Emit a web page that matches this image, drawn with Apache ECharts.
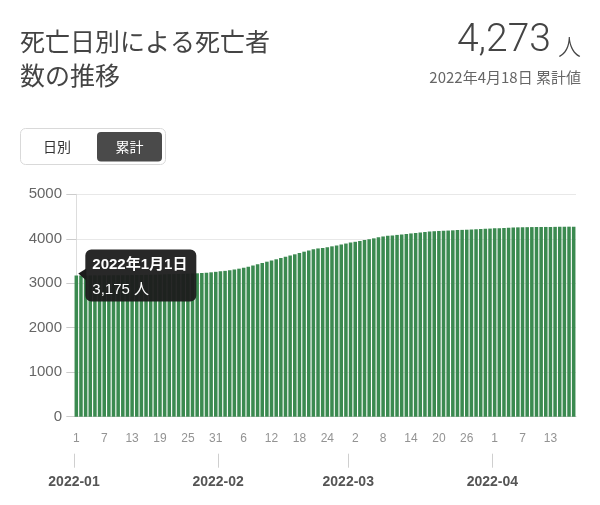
<!DOCTYPE html>
<html><head><meta charset="utf-8">
<script src="https://cdn.jsdelivr.net/npm/echarts@6/dist/echarts.min.js"></script>
<style>html,body{margin:0;padding:0;background:#fff}#c{width:600px;height:505px}</style>
</head><body><div id="c"></div>
<script>
// ---- data ----
const months = ['2022-01', '2022-02', '2022-03', '2022-04'];
const monthDays = [31, 28, 31, 18];
const cumulativeDeaths = [
  3175,3175,3176,3176,3177,3177,3178,3179,3179,3180,3181,3182,3183,3184,3186,3188,3190,3192,3195,3198,3201,3204,3207,3211,3215,3219,3224,
  3231,3238,3246,3257,3268,3279,3291,3309,3328,3350,3373,3399,3426,3455,3485,3512,3539,3568,3597,3624,3651,3680,3710,3737,3763,3783,
  3795,3812,3830,3850,3870,3893,3915,3932,3950,3970,3990,4010,4032,4052,4066,4076,4087,4098,4109,4120,4131,4142,4152,4162,4170,4176,
  4181,4185,4190,4195,4200,4204,4209,4214,4219,4224,4229,4234,4238,4242,4248,4253,4257,4259,4261,4263,4264,4265,4266,4267,4268,4269,
  4270,4272,4273
];
const yTickValues = [0, 1000, 2000, 3000, 4000, 5000];
const titleLines = ['死亡日別による死亡者', '数の推移'];
const totalText = '4,273';
const unitText = '人';
const asOfText = '2022年4月18日 累計値';
const toggleLabels = ['日別', '累計'];

// ---- categories ----
const dates = [];
months.forEach((m, i) => {
  for (let d = 1; d <= monthDays[i]; d++) dates.push(m + '-' + String(d).padStart(2, '0'));
});
// month boundaries (index of first day - 0.5) for the month axis
const monthStarts = [];
let acc = 0;
monthDays.forEach(n => { monthStarts.push(acc - 0.5); acc += n; });

const JP = '"Noto Sans CJK JP", "Noto Sans", sans-serif';
const NUM = '"Liberation Sans", Arial, sans-serif';

const chart = echarts.init(document.getElementById('c'), null, {renderer: 'canvas'});

chart.setOption({
  animation: false,
  grid: {left: 74, right: 24, top: 194.3, bottom: 88.3, containLabel: false},
  xAxis: [{
    type: 'category', data: dates, boundaryGap: true,
    axisLine: {show: true, lineStyle: {color: '#cccccc'}},
    axisTick: {show: false},
    axisLabel: {interval: 5, margin: 16, color: '#939393', fontSize: 12, fontFamily: NUM,
      formatter: v => String(+v.slice(8))}
  }, {
    type: 'value', min: -0.5, max: dates.length - 0.5, position: 'bottom', offset: 37,
    axisLine: {show: false},
    axisTick: {show: true, customValues: monthStarts, length: 14, lineStyle: {color: '#cfcfcf'}},
    axisLabel: {customValues: monthStarts, margin: 21, color: '#555', fontSize: 14, fontWeight: 'bold',
      fontFamily: NUM, formatter: v => months[monthStarts.indexOf(v)] || ''},
    splitLine: {show: false}
  }],
  yAxis: {
    type: 'value', min: yTickValues[0], max: yTickValues[yTickValues.length - 1], interval: 1000,
    axisLine: {show: true, lineStyle: {color: '#dddddd'}},
    axisTick: {show: true, length: 10, lineStyle: {color: '#cccccc'}},
    axisLabel: {margin: 12, color: '#666', fontSize: 15, fontFamily: NUM, formatter: v => String(v)},
    splitLine: {lineStyle: {color: '#e8e8e8'}}
  },
  series: [{
    type: 'bar', xAxisIndex: 0, data: cumulativeDeaths,
    barCategoryGap: '24%',
    itemStyle: {color: '#3b8a50'},
    z: 2
  }]
});

// ---- header / toggle / fixed tooltip ----
const pt = chart.convertToPixel({xAxisIndex: 0, yAxisIndex: 0}, [dates[0], cumulativeDeaths[0]]);
const [yy, mm, dd] = dates[0].split('-');
const tipDate = `${yy}年${+mm}月${+dd}日`;
const tipVal = cumulativeDeaths[0].toLocaleString('en-US') + ' 人';
const bx = pt[0] + 9, by = pt[1] - 26;
const TZ = 100;

chart.setOption({
  graphic: [
    {type: 'text', left: 20, top: 29, style: {text: titleLines[0], font: `400 25px ${JP}`, fill: '#444'}},
    {type: 'text', left: 20, top: 63, style: {text: titleLines[1], font: `400 25px ${JP}`, fill: '#444'}},
    {type: 'text', x: 551, y: 41, style: {text: totalText, font: `300 39px Roboto, ${NUM}`, fill: '#444', align: 'right', verticalAlign: 'middle'}},
    {type: 'text', x: 581, y: 46, style: {text: unitText, font: `300 23px ${JP}`, fill: '#444', align: 'right', verticalAlign: 'middle'}},
    {type: 'text', x: 581, y: 77, style: {text: asOfText, font: `400 15px ${JP}`, fill: '#666', align: 'right', verticalAlign: 'middle'}},
    {type: 'rect', shape: {x: 20.5, y: 128.5, width: 145, height: 36, r: 5}, style: {fill: '#fff', stroke: '#d9d9d9', lineWidth: 1}},
    {type: 'rect', shape: {x: 97, y: 132, width: 65, height: 29.5, r: 4}, style: {fill: '#4a4a4a'}},
    {type: 'text', x: 57, y: 147, style: {text: toggleLabels[0], font: `400 14px ${JP}`, fill: '#333', align: 'center', verticalAlign: 'middle'}},
    {type: 'text', x: 129.5, y: 147, style: {text: toggleLabels[1], font: `400 14px ${JP}`, fill: '#fff', align: 'center', verticalAlign: 'middle'}},
    {type: 'polygon', z: TZ, shape: {points: [[bx + 1, by + 19], [pt[0] + 2, pt[1] - 2], [bx + 1, by + 31]]}, style: {fill: '#1c1c1c'}},
    {type: 'rect', z: TZ, shape: {x: bx, y: by, width: 111, height: 52, r: 6}, style: {fill: '#1c1c1c', opacity: 0.95}},
    {type: 'text', z: TZ + 1, x: bx + 7, y: by + 15, style: {text: tipDate, font: `bold 15px ${NUM}, ${JP}`, fill: '#fff', verticalAlign: 'middle'}},
    {type: 'text', z: TZ + 1, x: bx + 7, y: by + 40, style: {text: tipVal, font: `400 15px ${NUM}, ${JP}`, fill: '#fff', verticalAlign: 'middle'}}
  ]
});
</script></body></html>
